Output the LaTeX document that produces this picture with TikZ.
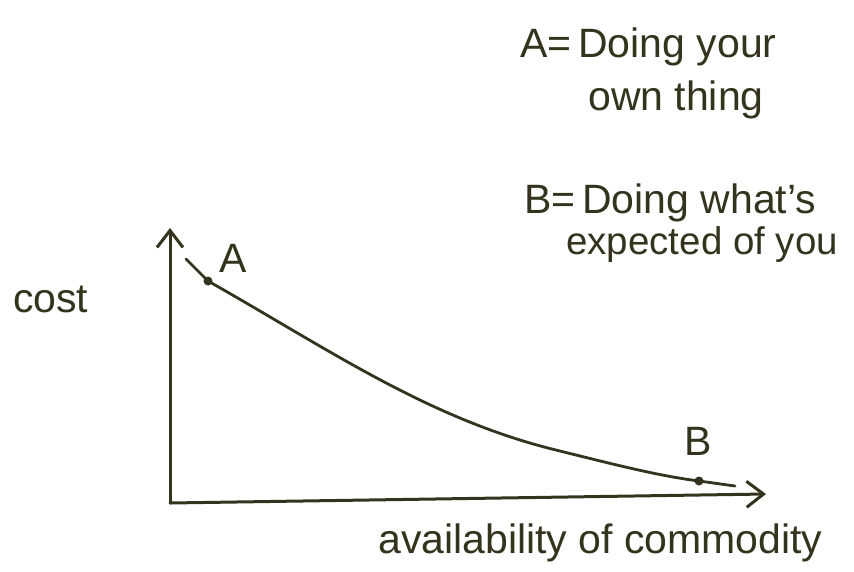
\documentclass[tikz,border=0pt]{standalone}
\usepackage{fontspec}
\setmainfont{Liberation Sans}
\usetikzlibrary{arrows.meta}
\definecolor{ink}{HTML}{34341E}
\begin{document}
\begin{tikzpicture}[x=1pt,y=-1pt,
  hand/.style={font=\fontsize{41}{46}\selectfont, text=ink, inner sep=0pt, anchor=base west},
  axis/.style={draw=ink, line width=3pt, line cap=round, -{Straight Barb[length=17pt,width=26pt,line width=3pt]}},
  curve/.style={draw=ink, line width=2.8pt, line cap=round},
  pt/.style={circle, fill=ink, inner sep=0pt, minimum size=9pt}]
\useasboundingbox[fill=white] (0,0) rectangle (854,571);
% axes
\coordinate (O) at (170,503);
\coordinate (Ytip) at (170,228);
\coordinate (Xtip) at (766,494);
\draw[axis] (O) -- (Ytip);
\draw[axis] (O) -- (Xtip);
% curve
\coordinate (C0) at (186,259);
\node[pt] (Adot) at (208,281) {};
\node[pt] (Bdot) at (699,481) {};
\coordinate (C1) at (735,486);
\draw[curve] (C0) -- (Adot.center)
  .. controls (330,350) and (430,420) .. (560,451)
  .. controls (620,466) and (660,476) .. (Bdot.center)
  -- (C1);
% labels
\node[hand] (Alab) at (219,272) {A};
\node[hand] (Blab) at (684,455) {B};
\node[hand] (cost) at (13,312) {cost};
\node[hand] (xlab) at (378,553) {availability of commodity};
\node[hand] (l1) at (520,57) {A=\,Doing your};
\node[hand] (l2) at (588,110) {own thing};
\node[hand] (l3) at (524,213) {B=\,Doing what’s};
\node[hand, font=\fontsize{38.5}{44}\selectfont] (l4) at (566,254) {expected of you};
\end{tikzpicture}
\end{document}
